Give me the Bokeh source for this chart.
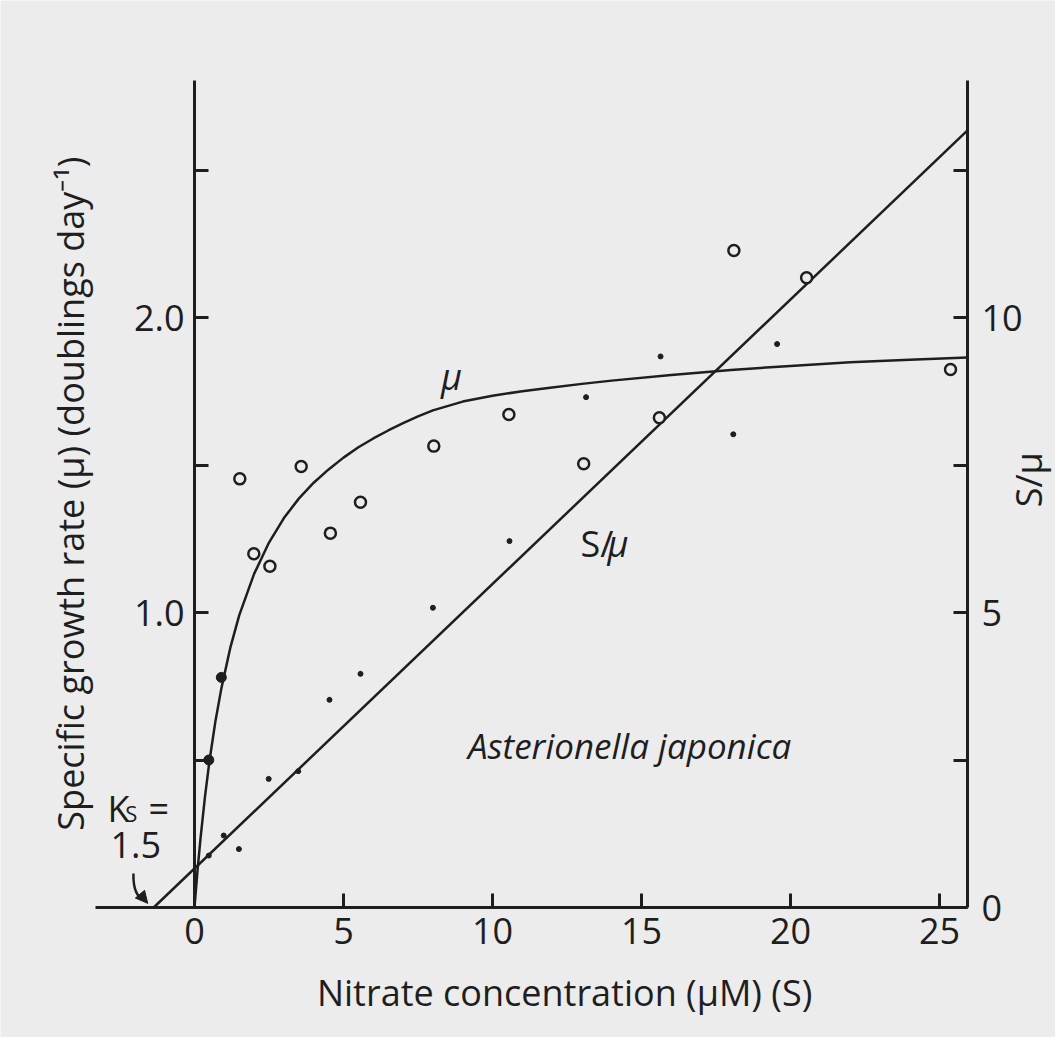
import math
from bokeh.plotting import figure
from bokeh.models import LinearAxis, Range1d, FixedTicker, Label, Arrow, NormalHead
from bokeh.embed import file_html
from bokeh.resources import INLINE

# ---------------- data ----------------
# open circles: specific growth rate mu (left axis)
mu_S = [1.52, 1.99, 2.53, 3.58, 4.56, 5.57, 8.03, 10.55, 13.06, 15.60, 18.10, 20.54, 25.37]
mu_obs = [1.453, 1.199, 1.157, 1.495, 1.269, 1.374, 1.564, 1.671, 1.504, 1.660, 2.227, 2.135, 1.824]
# large filled points on the mu curve (low S)
mu_low_S = [0.48, 0.90]
mu_low = [0.50, 0.78]
# small dots: S/mu (right axis)
ratio_S = [0.48, 0.98, 1.49, 2.49, 3.48, 4.53, 5.57, 8.00, 10.57, 13.14, 15.64, 18.08, 19.55]
ratio_obs = [0.88, 1.22, 0.99, 2.18, 2.31, 3.52, 3.96, 5.08, 6.21, 8.65, 9.34, 8.02, 9.55]
# fitted mu curve
curve_S = [0.0, 0.1, 0.2, 0.35, 0.5, 0.7, 0.9, 1.2, 1.5, 2.0, 2.5, 3.0, 3.5, 4.0, 4.5,
           5.0, 5.5, 6.0, 6.5, 7.0, 7.5, 8.0, 9.0, 10.0, 11.0, 12.0, 13.0, 14.0, 16.0,
           18.0, 20.0, 22.0, 24.0, 25.94]
curve_mu = [0.0, 0.124, 0.233, 0.374, 0.495, 0.63, 0.742, 0.88, 0.99, 1.131, 1.237, 1.32, 1.386,
            1.44, 1.485, 1.525, 1.56, 1.59, 1.617, 1.642, 1.665, 1.685, 1.715, 1.735, 1.75,
            1.763, 1.775, 1.786, 1.805, 1.822, 1.836, 1.848, 1.857, 1.864]
# fitted S/mu line (right axis)
line_S = [-1.37, 25.94]
line_ratio = [0.0, 13.17]

# ticks
x_ticks = [0, 5, 10, 15, 20, 25]
left_ticks = [0.5, 1.0, 1.5, 2.0, 2.5]
left_tick_labels = ["", "1.0", "", "2.0", ""]
right_ticks = [0.0, 2.5, 5.0, 7.5, 10.0, 12.5]
right_tick_labels = ["0", "", "5", "", "10", ""]

# ---------------- styling ----------------
FONT = "Open Sans"
INK = "#1e1e1e"
BG = "#ececec"
FS = "36px"
W, H = 1055, 1037
PX_X = 29.8    # pixels per unit S
PX_Y = 295.0   # pixels per unit mu
X0, Y0 = 194, 907  # pixel position of the origin

X_MIN, X_MAX = -3.32, 25.94   # extent of drawn x axis
Y_MAX = 2.803                 # extent of drawn y axes
RATIO_MAX = Y_MAX * 5

p = figure(width=W, height=H,
           x_range=Range1d(-X0 / PX_X, (W - X0) / PX_X),
           y_range=Range1d((Y0 - H) / PX_Y, Y0 / PX_Y),
           output_backend="svg", toolbar_location=None,
           x_axis_location=None, y_axis_location=None,
           min_border=0, min_border_left=0, min_border_right=0,
           min_border_top=0, min_border_bottom=0,
           background_fill_color=BG, border_fill_color=BG, outline_line_color=None)
p.extra_y_ranges = {"ratio": Range1d(5 * (Y0 - H) / PX_Y, 5 * Y0 / PX_Y)}
p.grid.visible = False


def style_axis(ax, standoff):
    ax.axis_line_width = 3
    ax.axis_line_color = INK
    ax.major_tick_line_width = 3
    ax.major_tick_line_color = INK
    ax.major_tick_in = 14
    ax.major_tick_out = 0
    ax.minor_tick_line_color = None
    ax.major_label_text_font = FONT
    ax.major_label_text_font_size = FS
    ax.major_label_text_color = INK
    ax.major_label_standoff = standoff


xa = LinearAxis(fixed_location=0, bounds=(X_MIN, X_MAX), ticker=FixedTicker(ticks=x_ticks))
style_axis(xa, 10)
p.add_layout(xa, "below")

ya = LinearAxis(fixed_location=0, bounds=(0, Y_MAX), ticker=FixedTicker(ticks=left_ticks),
                major_label_overrides=dict(zip(left_ticks, left_tick_labels)))
style_axis(ya, 10)
p.add_layout(ya, "left")

ra = LinearAxis(y_range_name="ratio", fixed_location=X_MAX, bounds=(0, RATIO_MAX),
                ticker=FixedTicker(ticks=right_ticks),
                major_label_overrides=dict(zip(right_ticks, right_tick_labels)))
style_axis(ra, 14)
p.add_layout(ra, "right")

# ---------------- glyphs ----------------
p.line(curve_S, curve_mu, line_width=2.5, line_color=INK)
p.line(line_S, line_ratio, y_range_name="ratio", line_width=2.5, line_color=INK)
p.scatter(mu_S, mu_obs, marker="circle", size=11, fill_color=BG, line_color=INK, line_width=2.5)
p.scatter(mu_low_S, mu_low, marker="circle", size=10, fill_color=INK, line_color=INK)
p.scatter(ratio_S, ratio_obs, y_range_name="ratio", marker="circle", size=5,
          fill_color=INK, line_color=INK)

# Ks arrow
p.bezier(x0=[-2.05], y0=[0.115], x1=[-1.66], y1=[0.026], cx0=[-2.06], cy0=[0.05],
         cx1=[-1.85], cy1=[0.03], line_width=2.5, line_color=INK)
p.add_layout(Arrow(end=NormalHead(size=12, fill_color=INK, line_color=INK, line_width=1),
                   x_start=-1.72, y_start=0.032, x_end=-1.57, y_end=0.014,
                   line_width=2.5, line_color=INK))


def lab(text, x, y, size=FS, align="left", baseline="alphabetic", style="normal", angle=0.0):
    p.add_layout(Label(x=x, y=y, text=text, text_font=FONT, text_font_size=size,
                       text_color=INK, text_align=align, text_baseline=baseline,
                       text_font_style=style, angle=angle))


lab("μ", 8.62, 1.80, align="center", style="italic")
lab("S/", 12.95, 1.233)
lab("μ", 13.86, 1.233, style="italic")
lab("Asterionella japonica", 14.60, 0.548, size="35px", align="center", style="italic")
lab("K", -2.92, 0.337)
lab("S", -2.32, 0.320, size="22px")
lab("=", -1.54, 0.337)
lab("1.5", -2.82, 0.211)

# axis titles
lab("Nitrate concentration (μM) (S)", 12.42, -0.288, align="center", baseline="middle")
lab("Specific growth rate (μ) (doublings day⁻¹)", -4.15, 1.403, align="center",
    baseline="middle", angle=math.pi / 2)
lab("S/μ", 28.0, 1.45, align="center", baseline="middle", angle=math.pi / 2)

open("out.html", "w").write(file_html(p, INLINE))
